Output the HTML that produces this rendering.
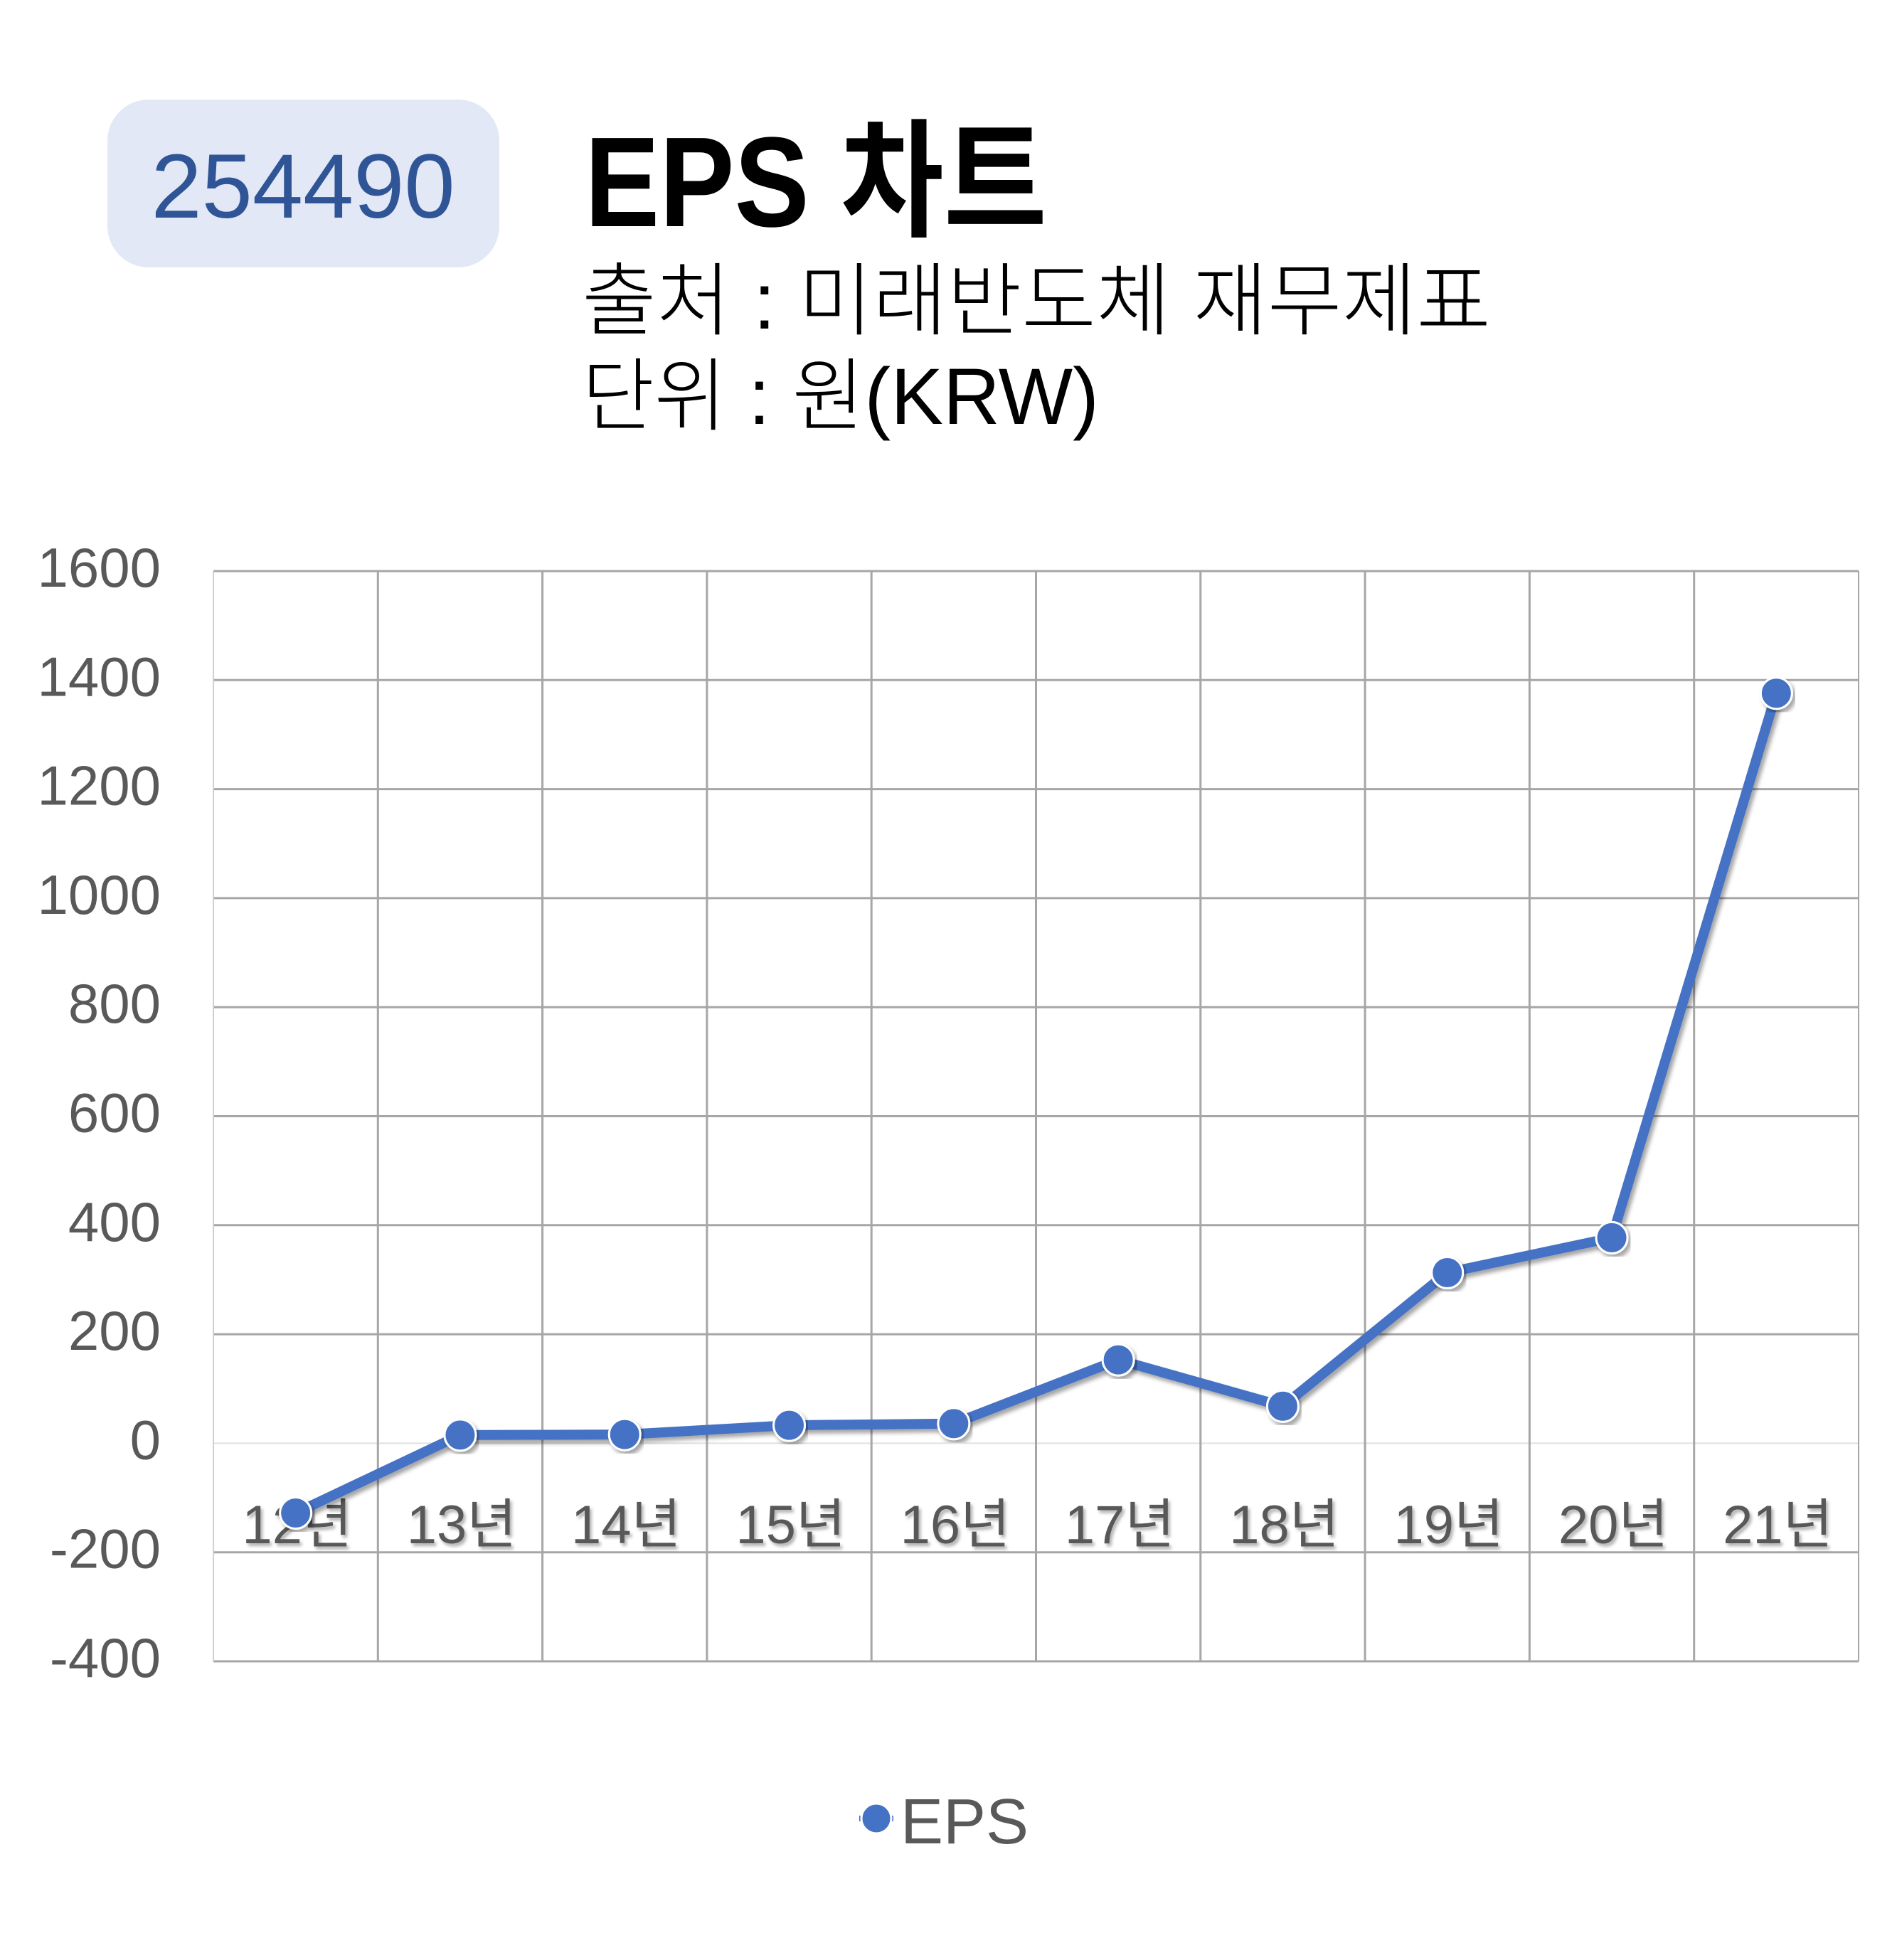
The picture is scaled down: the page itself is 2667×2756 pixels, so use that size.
<!DOCTYPE html>
<html><head><meta charset="utf-8"><style>
html,body{margin:0;padding:0;background:#fff;}
svg{display:block;}
</style></head><body>
<svg id="chart" width="2667" height="2756" viewBox="0 0 2667 2756" xmlns="http://www.w3.org/2000/svg">
<defs>
<filter id="sh" x="-10%" y="-10%" width="120%" height="120%"><feDropShadow dx="4" dy="5" stdDeviation="3" flood-color="#000" flood-opacity="0.35"/></filter>
<filter id="tsh" x="-10%" y="-10%" width="120%" height="130%"><feDropShadow dx="3" dy="4" stdDeviation="2" flood-color="#000" flood-opacity="0.3"/></filter>
</defs>
<rect x="151" y="140" width="551" height="236" rx="58" fill="#e2e8f5"/>
<text x="426" y="306" text-anchor="middle" font-family="Liberation Sans, sans-serif" font-size="128" fill="#2f5597">254490</text>
<text x="822" y="318" font-family="Liberation Sans, Noto Sans CJK KR, sans-serif" font-weight="bold" font-size="180" fill="#000" textLength="650" lengthAdjust="spacingAndGlyphs">EPS 차트</text>
<text x="818" y="462" font-family="Liberation Sans, Noto Sans CJK KR, sans-serif" font-weight="300" font-size="112" fill="#000" textLength="1278" lengthAdjust="spacingAndGlyphs">출처 : 미래반도체 재무제표</text>
<text x="818" y="596" font-family="Liberation Sans, Noto Sans CJK KR, sans-serif" font-weight="300" font-size="112" fill="#000" textLength="727" lengthAdjust="spacingAndGlyphs">단위 : 원(KRW)</text>
<g id="grid"></g>
<g id="xlabels"></g>
<g id="series"></g>
<g>
<line x1="1208" y1="2557" x2="1256" y2="2557" stroke="#4472c4" stroke-width="8"/>
<circle cx="1232" cy="2557" r="21" fill="#4472c4" stroke="#fff" stroke-width="3"/>
<text x="1266" y="2592" font-family="Liberation Sans, sans-serif" font-size="90" fill="#595959">EPS</text>
</g>
</svg>
<script>
const categories = ["12년","13년","14년","15년","16년","17년","18년","19년","20년","21년"];
const epsValues = [-128, 15, 16, 33, 36, 153, 68, 313, 377, 1376];
const yTicks = [-400,-200,0,200,400,600,800,1000,1200,1400,1600];
const NS="http://www.w3.org/2000/svg";
const L=300, R=2613, T=803, B=2336, yMin=-400, yMax=1600;
const colW=(R-L)/categories.length;
function xs(i){return L+colW*(i+0.5);}
function ys(v){return B-(v-yMin)/(yMax-yMin)*(B-T);}
function mk(tag,attrs,parent){const e=document.createElementNS(NS,tag);for(const k in attrs)e.setAttribute(k,attrs[k]);parent.appendChild(e);return e;}
const grid=document.getElementById('grid');
yTicks.forEach(t=>{
  const l=mk('line',{x1:L,x2:R,y1:ys(t),y2:ys(t),stroke:t===0?'#e0e0e0':'#a6a6a6','stroke-width':t===0?2:3},grid);
  
  
  const tx=mk('text',{x:226,y:ys(t)+22,'text-anchor':'end','font-family':'Liberation Sans, sans-serif','font-size':78,fill:'#595959'},grid);
  tx.textContent=t;
  
  
});
for(let i=0;i<=categories.length;i++){
  const x=L+colW*i;
  const l=mk('line',{x1:x,x2:x,y1:T,y2:B,stroke:(i===0)?'#d0d0d0':'#a6a6a6','stroke-width':(i===0||i===categories.length)?2:3},grid);
  
  
}
const xl=document.getElementById('xlabels');
categories.forEach((c,i)=>{
  const t=mk('text',{x:xs(i)+2,y:2170,'text-anchor':'middle','font-family':'Liberation Sans, Noto Sans CJK KR, sans-serif','font-size':76,fill:'#595959',filter:'url(#tsh)'},xl);
  t.textContent=c;
  
  
});
const sg=document.getElementById('series');
const pts=epsValues.map((v,i)=>xs(i)+','+ys(v)).join(' ');
const pl=mk('polyline',{points:pts,fill:'none',stroke:'#4472c4','stroke-width':14,'stroke-linejoin':'round',filter:'url(#sh)'},sg);


epsValues.forEach((v,i)=>{
  const c=mk('circle',{cx:xs(i),cy:ys(v),r:22,fill:'#4472c4',stroke:'#fff','stroke-width':3,filter:'url(#sh)'},sg);
  
  
});
</script>
</body></html>
